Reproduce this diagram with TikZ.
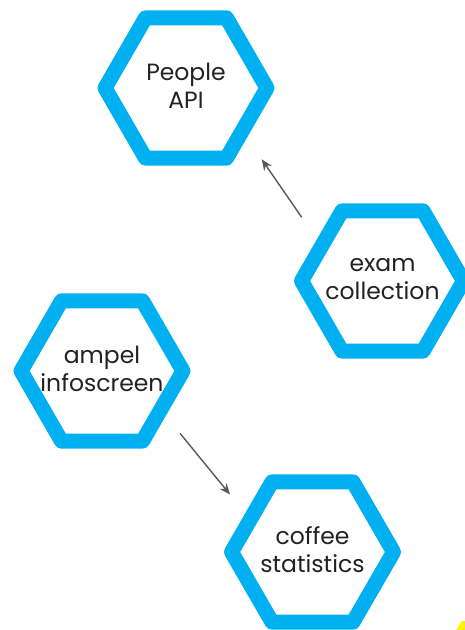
\documentclass[tikz,border=0pt]{standalone}
\usepackage{fontspec}
\setmainfont{Poppins}
\usetikzlibrary{shapes.geometric,arrows.meta,calc}
\definecolor{hexblue}{HTML}{00B0F0}
\definecolor{arrowgray}{HTML}{595959}
\definecolor{txt}{HTML}{222222}
\definecolor{markyellow}{HTML}{FFF200}
\tikzset{
  hexnode/.style={regular polygon, regular polygon sides=6, minimum size=162pt,
    inner sep=0pt, draw=hexblue, line width=15pt, line join=round, fill=white},
  hextext/.style={text=txt, align=center, inner sep=0pt, font=\fontsize{23.5}{28}\selectfont},
  conn/.style={draw=arrowgray, line width=1.4pt, -{Stealth[length=11pt,width=9pt]}}
}
\begin{document}
\begin{tikzpicture}[x=1pt,y=-1pt]
\clip (0,0) rectangle (465,630);
\useasboundingbox (0,0) rectangle (465,630);
\fill[white] (0,0) rectangle (465,630);
\node[hexnode] (people) at (186,88) {};
\node[hexnode] (exam) at (382.5,281) {};
\node[hexnode] (ampel) at (102,371) {};
\node[hexnode] (coffee) at (312.5,552) {};
\node[hextext] (peopleT) at ([yshift=2pt]people.center) {People\\API};
\node[hextext] (examT) at ([yshift=2pt]exam.center) {exam\\collection};
\node[hextext] (ampelT) at ([yshift=2pt]ampel.center) {ampel\\infoscreen};
\node[hextext] (coffeeT) at ([yshift=2pt]coffee.center) {coffee\\statistics};
\coordinate (a1s) at ([shift={(-80.8,-63.7)}]exam.center);
\coordinate (a1e) at ([shift={(75.7,71.3)}]people.center);
\coordinate (a2s) at ([shift={(78,62.3)}]ampel.center);
\coordinate (a2e) at ([shift={(-82.5,-57.5)}]coffee.center);
\draw[conn] (a1s) -- (a1e);
\draw[conn] (a2s) -- (a2e);
\fill[markyellow] (456,630) -- (462,621) -- (468,621) -- (468,630) -- cycle;
\end{tikzpicture}
\end{document}
